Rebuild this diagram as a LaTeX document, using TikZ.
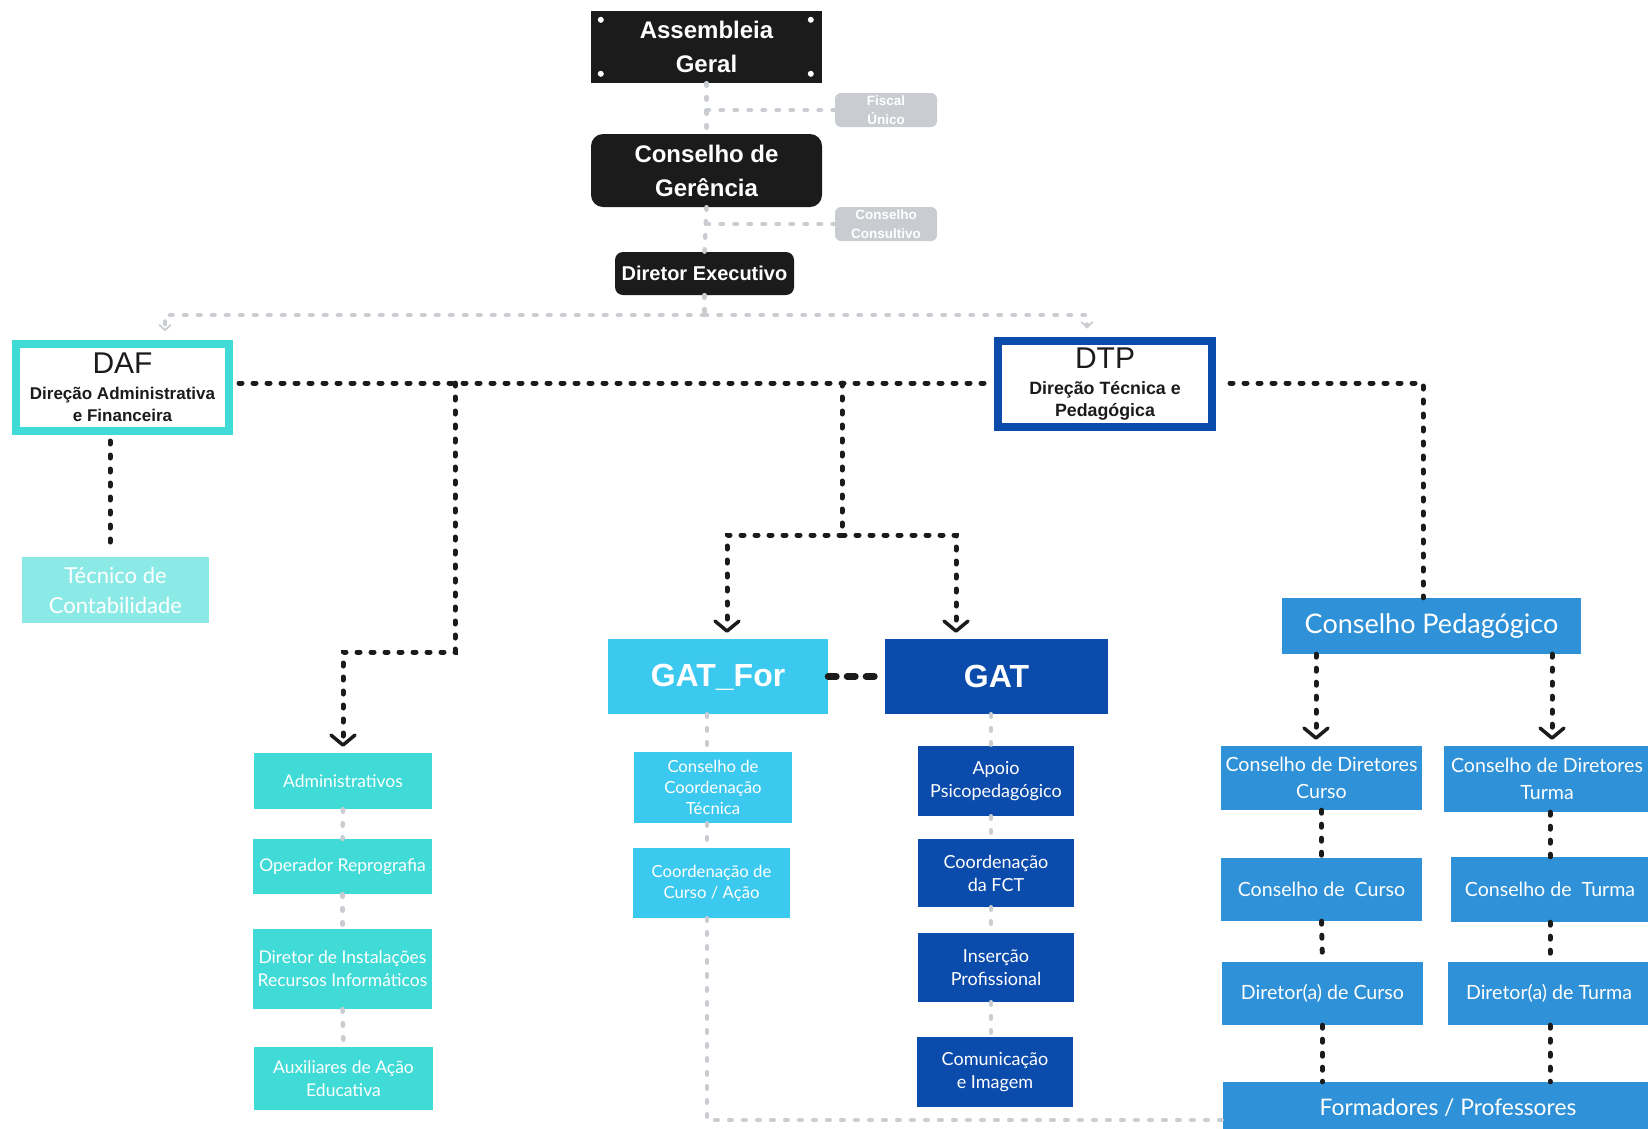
\documentclass[tikz,border=0pt]{standalone}
\usepackage{fontspec}
\setmainfont{Liberation Sans}
\newfontfamily\lt{Lato}
\usetikzlibrary{arrows.meta,calc}
\definecolor{bk}{HTML}{1B1B1B}
\definecolor{gr}{HTML}{C9CCD1}
\definecolor{tq}{HTML}{40DBD7}
\definecolor{tql}{HTML}{8CEAE6}
\definecolor{sky}{HTML}{3CC9EF}
\definecolor{nv}{HTML}{0A4BAB}
\definecolor{mb}{HTML}{2F91D7}
\tikzset{
  sz/.style 2 args={minimum width=#1pt, minimum height=#2pt, inner sep=0pt, align=center},
  topbox/.style={fill=bk, text=white, font=\bfseries\fontsize{24}{34}\selectfont},
  minibox/.style={fill=gr, text=white, rounded corners=6pt, font=\bfseries\fontsize{13.5}{19}\selectfont},
  dirbox/.style={fill=white, line width=8pt, text=bk, font=\bfseries\fontsize{17}{22}\selectfont},
  tqbox/.style={fill=tq, text=white, font=\lt\fontsize{17.5}{23}\selectfont},
  skybox/.style={fill=sky, text=white, font=\lt\fontsize{16.7}{21}\selectfont},
  nvbox/.style={fill=nv, text=white, font=\lt\fontsize{18}{23}\selectfont},
  mbbox/.style={fill=mb, text=white, font=\lt\fontsize{19.6}{27}\selectfont},
  graydot/.style={draw=gr, line width=4.5pt, line cap=round, dash pattern=on 2.5pt off 11.5pt},
  blkdot/.style={draw=bk, line width=5pt, line cap=round, dash pattern=on 3pt off 11pt},
  heavydash/.style={draw=bk, line width=7pt, line cap=round, dash pattern=on 8pt off 11pt},
  chev/.style={-{Straight Barb[length=10pt,width=24pt,line width=3.5pt,round]}, shorten >=6pt},
  gchev/.style={-{Straight Barb[length=5pt,width=11pt,line width=1.8pt,round]}, shorten >=9pt},
}
\begin{document}
\begin{tikzpicture}[x=1pt,y=-1pt]
\useasboundingbox (0,0) rectangle (1648,1128);
\clip (0,0) rectangle (1648,1128);

% top hierarchy
\node[topbox, sz={231}{72}] (AG) at (706.5,47) {Assembleia\\Geral};
\foreach \p in {{(10,9)},{(220,9)},{(10,63)},{(220,63)}}
  \fill[white] ([shift=\p]AG.north west) circle (3pt);
\node[minibox, sz={102}{34}] (FU) at (886,110) {Fiscal\\Único};
\node[topbox, sz={231}{73}, rounded corners=12pt] (CG) at (706.5,170.5) {Conselho de\\Gerência};
\node[minibox, sz={102}{34}] (CC) at (886,224) {Conselho\\Consultivo};
\node[topbox, sz={179}{43}, rounded corners=8pt, font=\bfseries\fontsize{20}{24}\selectfont] (DE) at (704.5,273.5) {Diretor Executivo};

% directions
\node[dirbox, draw=tq, sz={213}{87}] (DAF) at (122.5,387.5)
  {{\mdseries\fontsize{30}{30}\selectfont DAF}\\[4pt]Direção Administrativa\\e Financeira};
\node[dirbox, draw=nv, sz={214}{86}, font=\bfseries\fontsize{17.8}{22}\selectfont] (DTP) at (1105,384)
  {{\mdseries\fontsize{30}{30}\selectfont DTP}\\[4pt]Direção Técnica e\\Pedagógica};
\node[fill=tql, text=white, font=\lt\fontsize{22}{30}\selectfont, sz={187}{66}] (TC) at (115.5,590) {Técnico de\\Contabilidade};

% administrative staff
\node[tqbox, sz={178}{56}] (ADM) at (343,781) {Administrativos};
\node[tqbox, sz={179}{55}] (OR) at (342.5,866.5) {Operador Reprografia};
\node[tqbox, sz={179}{80}] (DI) at (342.5,969) {Diretor de Instalações\\Recursos Informáticos};
\node[tqbox, sz={179}{63}] (AU) at (343.5,1078.5) {Auxiliares de Ação\\Educativa};

% GAT
\node[fill=sky, text=white, font=\bfseries\fontsize{32}{36}\selectfont, sz={220}{75}, text depth=0pt, text height=19pt] (GF) at (718,676.5) {GAT\_For};
\node[fill=nv, text=white, font=\bfseries\fontsize{32}{36}\selectfont, sz={223}{75}] (GAT) at (996.5,676.5) {GAT};
\node[skybox, sz={158}{71}] (CCT) at (713,787.5) {Conselho de\\Coordenação\\Técnica};
\node[skybox, sz={157}{70}] (CCA) at (711.5,883) {Coordenação de\\Curso / Ação};
\node[nvbox, sz={156}{70}] (AP) at (996,781) {Apoio\\Psicopedagógico};
\node[nvbox, sz={156}{68}] (FCT) at (996,873) {Coordenação\\da FCT};
\node[nvbox, sz={156}{69}] (IP) at (996,967.5) {Inserção\\Profissional};
\node[nvbox, sz={156}{70}] (CI) at (995,1072) {Comunicação\\e Imagem};

% pedagogical
\node[mbbox, font=\lt\fontsize{27}{30}\selectfont, sz={299}{56}] (CP) at (1431.5,626) {Conselho Pedagógico};
\node[mbbox, sz={201}{64}] (CDC) at (1321.5,778) {Conselho de Diretores\\Curso};
\node[mbbox, sz={206}{66}] (CDT) at (1547,779) {Conselho de Diretores\\Turma};
\node[mbbox, sz={201}{63}] (CCu) at (1321.5,889.5) {Conselho de\ \ Curso};
\node[mbbox, sz={198}{65}] (CT) at (1550,889.5) {Conselho de\ \ Turma};
\node[mbbox, sz={201}{63}] (DC) at (1322.5,993.5) {Diretor(a) de Curso};
\node[mbbox, sz={202}{63}] (DT) at (1549,993.5) {Diretor(a) de Turma};
\node[mbbox, font=\lt\fontsize{22.8}{26}\selectfont, sz={450}{52}] (FP) at (1448,1108) {Formadores / Professores};

% gray connectors (top)
\coordinate (gl) at (165,315);
\coordinate (gr) at (1087,315);
\draw[graydot] (AG.south) -- (CG.north);
\draw[graydot] (AG.south |- FU.west) -- (FU.west);
\draw[graydot] (CG.south) -- (DE.north);
\draw[graydot] (CG.south |- CC.west) -- (CC.west);
\draw[graydot] (DE.south) -- (DE.south |- gl);
\draw[graydot, gchev] (gl -| DE.south) -- (gl) -- (gl |- DAF.north);
\draw[graydot, gchev] (gl -| DE.south) -- (gr) -- (gr |- DTP.north);

% black connectors
\coordinate (d1) at (110,0);
\coordinate (b1) at (455,383);
\coordinate (b1d) at (455,652);
\draw[blkdot, shorten <=6pt, shorten >=4pt] (d1 |- DAF.south) -- (d1 |- TC.north);
\draw[blkdot, shorten <=6pt, shorten >=4pt] (DAF.east |- b1) -- (DTP.west |- b1);
\draw[blkdot, chev] (b1) -- (b1d) -- (b1d -| ADM.north) -- (ADM.north);
\coordinate (b2) at (842,383);
\coordinate (b2d) at (842,535);
\coordinate (ga) at (727,535);
\coordinate (gb) at (956,535);
\draw[blkdot] (b2) -- (b2d);
\draw[blkdot, chev] (b2d) -- (ga) -- (ga |- GF.north);
\draw[blkdot, chev] (b2d) -- (gb) -- (gb |- GAT.north);
\coordinate (r1) at (1423,383);
\draw[blkdot, shorten <=14pt] (DTP.east |- r1) -- (r1) -- (r1 |- CP.north);
\draw[heavydash] (GF.east) -- (GAT.west);

% gray chains
\draw[graydot] (ADM.south) -- (OR.north);
\draw[graydot] (OR.south) -- (DI.north);
\draw[graydot] (DI.south) -- (AU.north);
\coordinate (gx) at (707,0);
\coordinate (gbt) at (0,1120);
\draw[graydot] (gx |- GF.south) -- (gx |- CCT.north);
\draw[graydot] (gx |- CCT.south) -- (gx |- CCA.north);
\draw[graydot] (gx |- CCA.south) -- (gx |- gbt) -- (FP.west |- gbt);
\coordinate (gx2) at (991,0);
\draw[graydot] (gx2 |- GAT.south) -- (gx2 |- AP.north);
\draw[graydot] (gx2 |- AP.south) -- (gx2 |- FCT.north);
\draw[graydot] (gx2 |- FCT.south) -- (gx2 |- IP.north);
\draw[graydot] (gx2 |- IP.south) -- (gx2 |- CI.north);

% pedagogical connectors
\coordinate (cl) at (1316,0);
\coordinate (cr) at (1552,0);
\draw[blkdot, chev] (cl |- CP.south) -- (cl |- CDC.north);
\draw[blkdot, chev] (cr |- CP.south) -- (cr |- CDT.north);
\draw[blkdot] (CDC.south) -- (CCu.north);
\draw[blkdot] (CCu.south) -- (DC.north);
\draw[blkdot] (DC.south) -- (DC.south |- FP.north);
\coordinate (cx) at (1550,0);
\draw[blkdot] (cx |- CDT.south) -- (cx |- CT.north);
\draw[blkdot] (cx |- CT.south) -- (cx |- DT.north);
\draw[blkdot] (cx |- DT.south) -- (cx |- FP.north);
\end{tikzpicture}
\end{document}
